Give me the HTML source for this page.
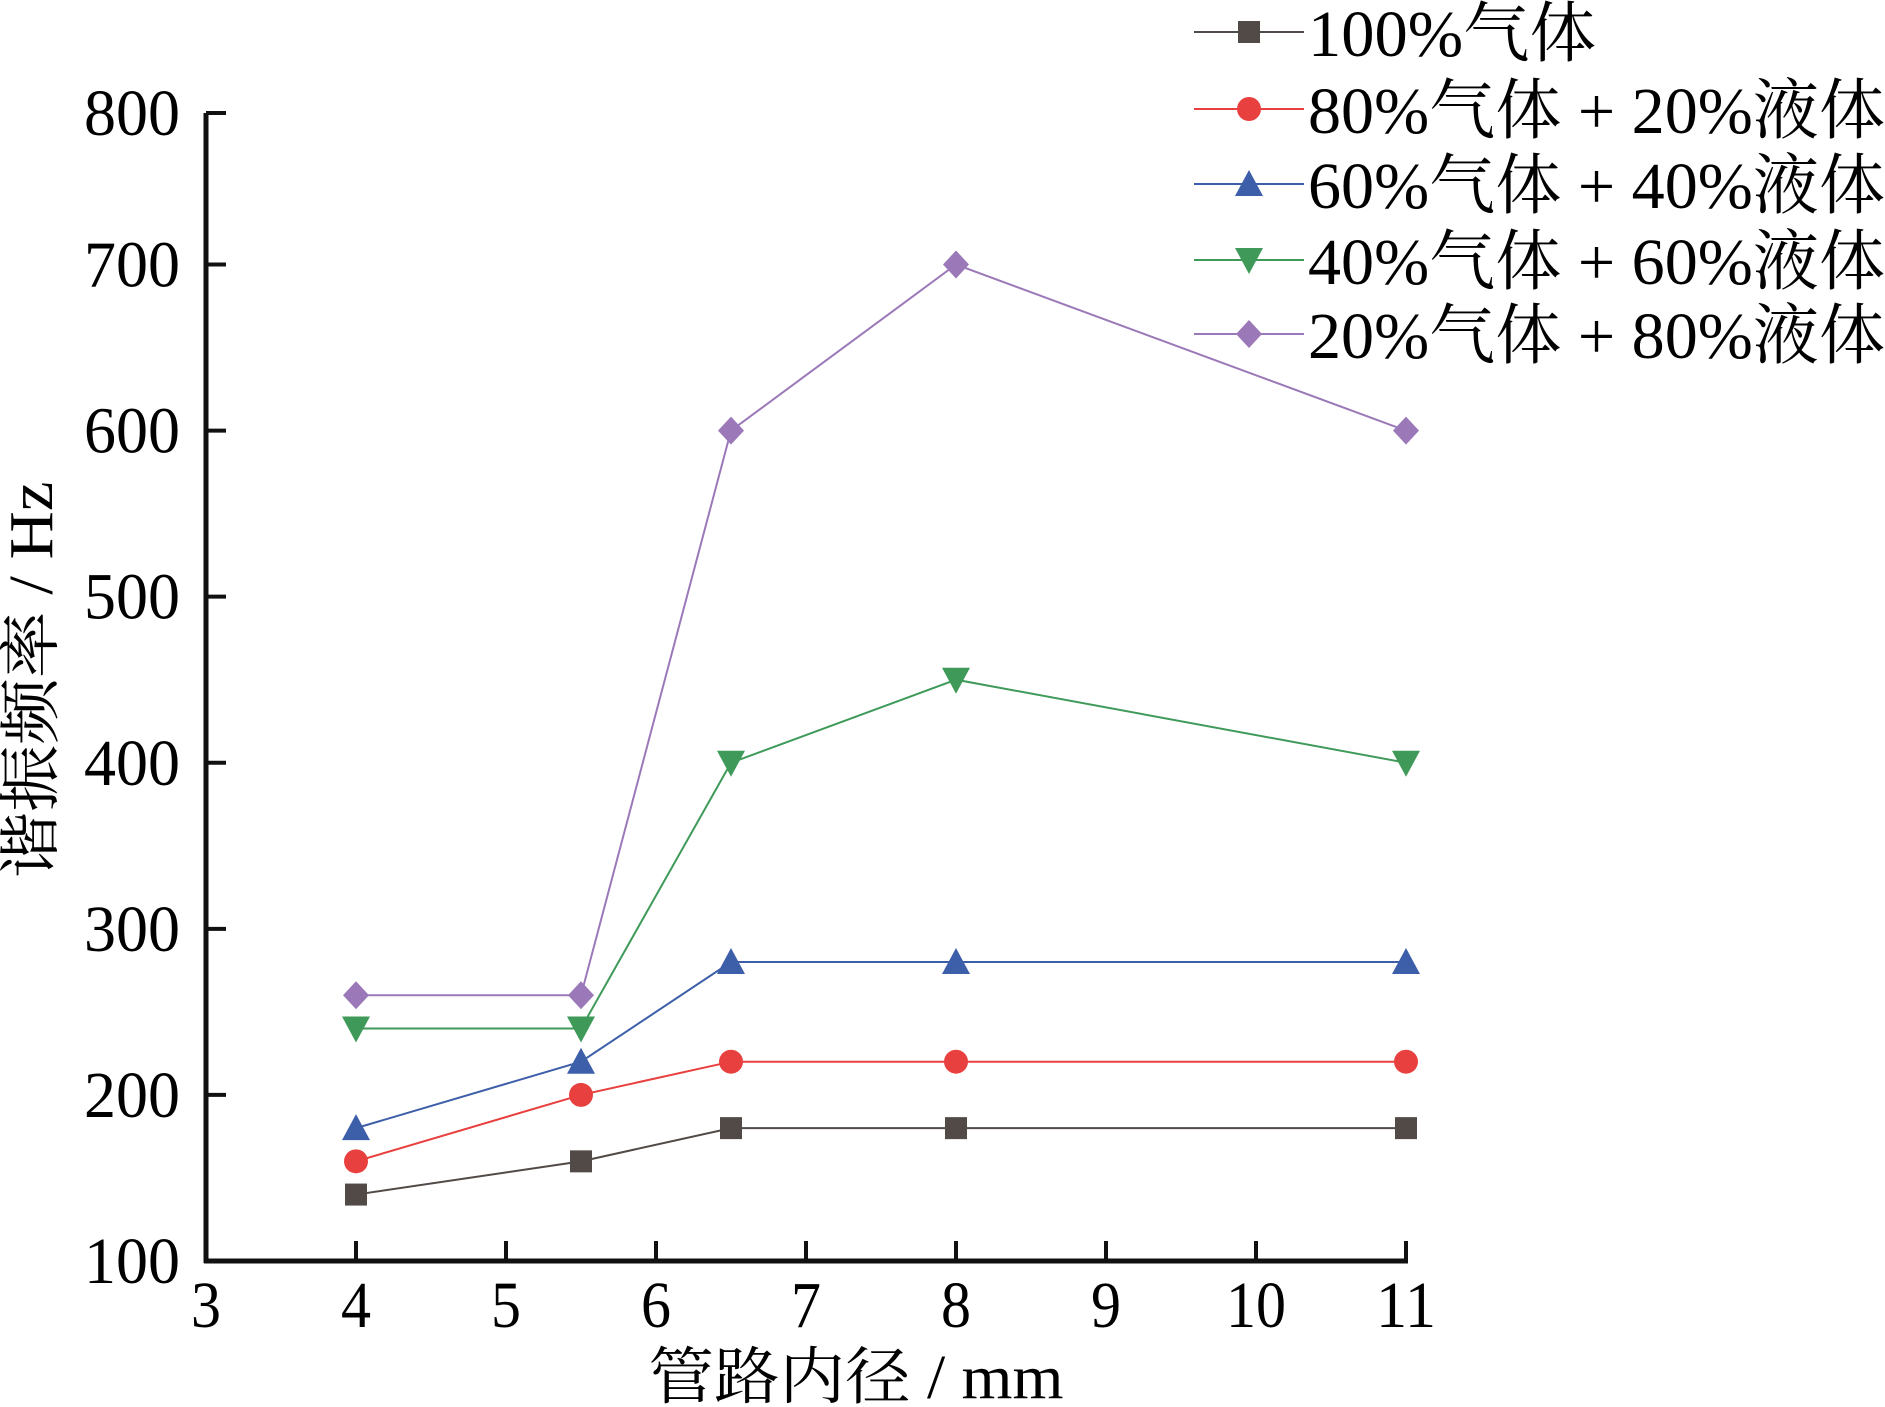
<!DOCTYPE html>
<html><head><meta charset="utf-8"><style>html,body{margin:0;padding:0;background:#fff}svg{display:block}</style></head>
<body>
<svg id="chart" width="1885" height="1407" viewBox="0 0 1885 1407" xmlns="http://www.w3.org/2000/svg" font-family="'Liberation Serif','Noto Serif CJK SC',serif">
<g id="plot"></g>
</svg>
<script>
const xValues = [4, 5.5, 6.5, 8, 11];
const seriesNames = ["100%气体", "80%气体 + 20%液体", "60%气体 + 40%液体", "40%气体 + 60%液体", "20%气体 + 80%液体"];
const series1 = [140, 160, 180, 180, 180];
const series2 = [160, 200, 220, 220, 220];
const series3 = [180, 220, 280, 280, 280];
const series4 = [240, 240, 400, 450, 400];
const series5 = [260, 260, 600, 700, 600];
const xTicks = [3, 4, 5, 6, 7, 8, 9, 10, 11];
const yTicks = [100, 200, 300, 400, 500, 600, 700, 800];

const NS = "http://www.w3.org/2000/svg";
const X0 = 206, X1 = 1406, Y0 = 1261, Y1 = 113, Y700 = 264.5;
const sx = v => X0 + (v - 3) / 8 * (X1 - X0);
const syLin = v => Y0 - (v - 100) / 600 * (Y0 - Y700);
const sy = v => v >= 800 ? Y1 : syLin(v);
const g = document.getElementById('plot');
function mk(tag, attrs, parent) {
  const e = document.createElementNS(NS, tag);
  for (const k in attrs) e.setAttribute(k, attrs[k]);
  (parent || g).appendChild(e);
  return e;
}
let e = mk('line', {x1: X0, y1: Y1, x2: X0, y2: Y0 + 2, stroke: '#111', 'stroke-width': 5});


e = mk('line', {x1: X0 - 2, y1: Y0, x2: X1 + 2, y2: Y0, stroke: '#111', 'stroke-width': 5});


yTicks.forEach(v => {
  const t = mk('line', {x1: X0, y1: sy(v), x2: X0 + 20, y2: sy(v), stroke: '#111', 'stroke-width': 4});
  
  
  const l = mk('text', {x: 180, y: sy(v) + 22, 'text-anchor': 'end', 'font-size': 66, textLength: 96, lengthAdjust: 'spacingAndGlyphs'});
  l.textContent = v;
  
  
});
xTicks.forEach(v => {
  const t = mk('line', {x1: sx(v), y1: Y0, x2: sx(v), y2: Y0 - 20, stroke: '#111', 'stroke-width': 4});
  
  
  const w = String(v).length * 30;
  const l = mk('text', {x: sx(v), y: 1327, 'text-anchor': 'middle', 'font-size': 66, textLength: w, lengthAdjust: 'spacingAndGlyphs'});
  l.textContent = v;
  
  
});
e = mk('text', {x: 856, y: 1398, 'text-anchor': 'middle', 'font-size': 62, textLength: 415, lengthAdjust: 'spacingAndGlyphs'});
e.textContent = '管路内径 / mm';


e = mk('text', {x: 0, y: 0, 'text-anchor': 'middle', 'font-size': 62, textLength: 397, lengthAdjust: 'spacingAndGlyphs', transform: 'translate(52,680) rotate(-90)'});
e.textContent = '谐振频率 / Hz';



const colors = ['#514a46', '#e8403e', '#3d5ea8', '#3f9a5a', '#9b78b8'];
const shapes = ['square', 'circle', 'triangle', 'tri-down', 'diamond'];
const allSeries = [series1, series2, series3, series4, series5];
function marker(shape, x, y, c, parent) {
  const s = 12;
  let m;
  if (shape === 'square') m = mk('rect', {x: x - 11, y: y - 11, width: 22, height: 22, fill: c}, parent);
  else if (shape === 'circle') m = mk('ellipse', {cx: x, cy: y, rx: 12, ry: 12, fill: c}, parent);
  else if (shape === 'triangle') m = mk('polygon', {points: `${x},${y - s - 2} ${x - s - 2},${y + s} ${x + s + 2},${y + s}`, fill: c}, parent);
  else if (shape === 'tri-down') m = mk('polygon', {points: `${x},${y + s + 2} ${x - s - 2},${y - s} ${x + s + 2},${y - s}`, fill: c}, parent);
  else m = mk('polygon', {points: `${x},${y - 14} ${x + 13},${y} ${x},${y + 14} ${x - 13},${y}`, fill: c}, parent);
  return m;
}
allSeries.forEach((data, i) => {
  const sg = mk('g', {});
  
  
  const pts = data.map((v, j) => sx(xValues[j]) + ',' + sy(v)).join(' ');
  const pl = mk('polyline', {points: pts, fill: 'none', stroke: colors[i], 'stroke-width': 2}, sg);
  
  
  data.forEach((v, j) => {
    const m = marker(shapes[i], sx(xValues[j]), sy(v), colors[i], sg);
    
    
  });
  const ly = [32, 109, 184, 260, 334][i];
  const lg = mk('g', {});
  
  
  mk('line', {x1: 1194, y1: ly, x2: 1304, y2: ly, stroke: colors[i], 'stroke-width': 2}, lg);
  marker(shapes[i], 1249, ly, colors[i], lg);
  const tl = mk('text', {x: 1308, y: ly + 24, 'font-size': 66, textLength: i === 0 ? 288 : 577, lengthAdjust: 'spacingAndGlyphs'}, lg);
  tl.textContent = seriesNames[i];
});
</script>
</body></html>
